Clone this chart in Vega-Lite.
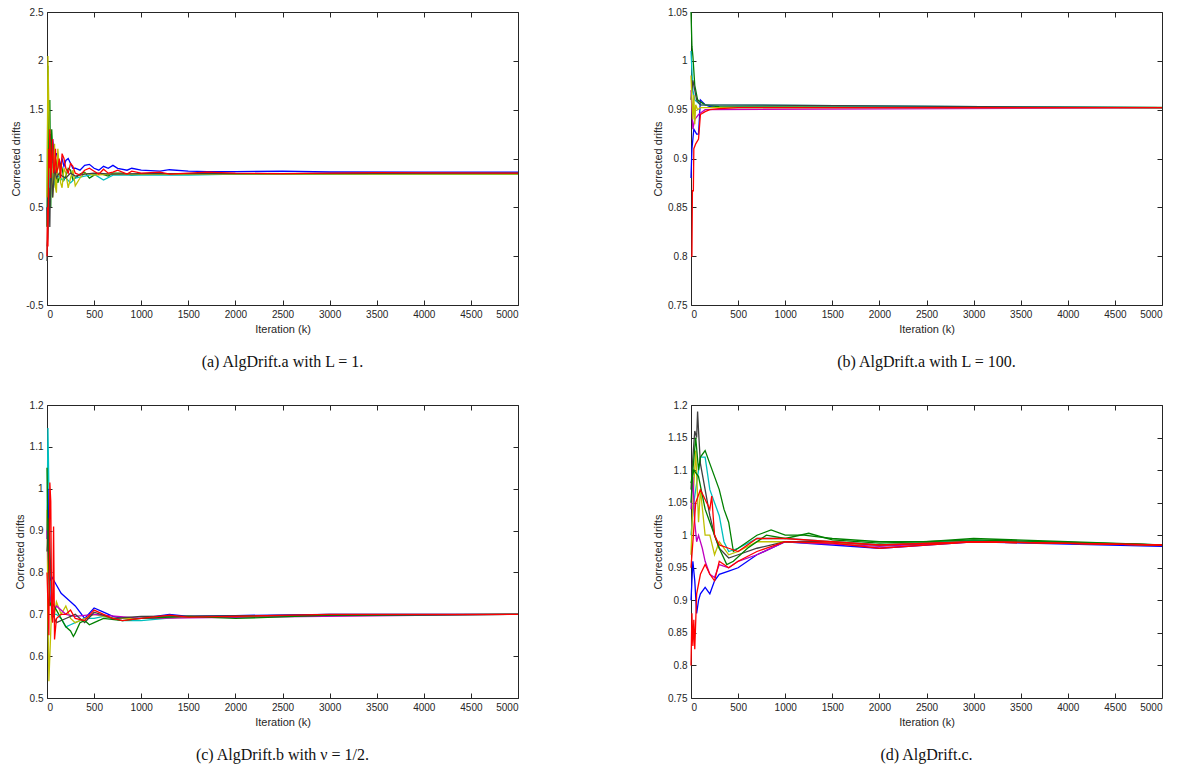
{
"$schema":"https://vega.github.io/schema/vega-lite/v6.json",
"padding":{"left":10,"top":6,"right":16,"bottom":5},
"background":"white",
"config":{
 "view":{"stroke":"#262626","strokeWidth":1},
 "axis":{"grid":false,"domain":false,"labelFont":"Liberation Sans","labelFontSize":10,"labelColor":"#262626","titleFont":"Liberation Sans","titleFontSize":11,"titleFontWeight":"normal","titleColor":"#262626","tickColor":"#262626","tickSize":-5,"labelPadding":9},
 "title":{"font":"Liberation Serif","fontSize":16,"fontWeight":"normal","color":"#111","orient":"bottom","offset":20}
},
"datasets":{"d":[
{"p":"a","r":"r1","x":0,"y":0.5},{"p":"a","r":"r1","x":5,"y":0.3},{"p":"a","r":"r1","x":10,"y":0.9},{"p":"a","r":"r1","x":15,"y":1.1},{"p":"a","r":"r1","x":20,"y":1.2},{"p":"a","r":"r1","x":25,"y":0.7},{"p":"a","r":"r1","x":30,"y":0.6},{"p":"a","r":"r1","x":40,"y":1.25},{"p":"a","r":"r1","x":50,"y":0.9},{"p":"a","r":"r1","x":60,"y":1.2},{"p":"a","r":"r1","x":70,"y":1.1},{"p":"a","r":"r1","x":80,"y":0.95},{"p":"a","r":"r1","x":90,"y":1.05},{"p":"a","r":"r1","x":100,"y":1.05},{"p":"a","r":"r1","x":115,"y":1.0},{"p":"a","r":"r1","x":130,"y":0.9},{"p":"a","r":"r1","x":145,"y":0.95},{"p":"a","r":"r1","x":160,"y":1.0},{"p":"a","r":"r1","x":180,"y":0.92},{"p":"a","r":"r1","x":200,"y":0.98},{"p":"a","r":"r1","x":225,"y":1.0},{"p":"a","r":"r1","x":250,"y":0.95},{"p":"a","r":"r1","x":275,"y":0.9},{"p":"a","r":"r1","x":300,"y":0.9},{"p":"a","r":"r1","x":350,"y":0.88},{"p":"a","r":"r1","x":400,"y":0.93},{"p":"a","r":"r1","x":450,"y":0.94},{"p":"a","r":"r1","x":500,"y":0.9},{"p":"a","r":"r1","x":550,"y":0.88},{"p":"a","r":"r1","x":600,"y":0.92},{"p":"a","r":"r1","x":650,"y":0.9},{"p":"a","r":"r1","x":700,"y":0.93},{"p":"a","r":"r1","x":750,"y":0.9},{"p":"a","r":"r1","x":850,"y":0.88},{"p":"a","r":"r1","x":900,"y":0.9},{"p":"a","r":"r1","x":1000,"y":0.88},{"p":"a","r":"r1","x":1200,"y":0.87},{"p":"a","r":"r1","x":1300,"y":0.885},{"p":"a","r":"r1","x":1500,"y":0.87},{"p":"a","r":"r1","x":1700,"y":0.865},{"p":"a","r":"r1","x":2000,"y":0.865},{"p":"a","r":"r1","x":2500,"y":0.87},{"p":"a","r":"r1","x":3000,"y":0.862},{"p":"a","r":"r1","x":4000,"y":0.86},{"p":"a","r":"r1","x":5000,"y":0.86},
{"p":"a","r":"r2","x":0,"y":0.3},{"p":"a","r":"r2","x":5,"y":1.0},{"p":"a","r":"r2","x":10,"y":1.95},{"p":"a","r":"r2","x":15,"y":1.4},{"p":"a","r":"r2","x":20,"y":1.0},{"p":"a","r":"r2","x":25,"y":0.6},{"p":"a","r":"r2","x":30,"y":1.6},{"p":"a","r":"r2","x":40,"y":0.5},{"p":"a","r":"r2","x":50,"y":1.3},{"p":"a","r":"r2","x":60,"y":1.1},{"p":"a","r":"r2","x":70,"y":0.7},{"p":"a","r":"r2","x":80,"y":0.8},{"p":"a","r":"r2","x":90,"y":1.0},{"p":"a","r":"r2","x":100,"y":0.95},{"p":"a","r":"r2","x":115,"y":0.75},{"p":"a","r":"r2","x":130,"y":0.8},{"p":"a","r":"r2","x":145,"y":0.95},{"p":"a","r":"r2","x":160,"y":0.9},{"p":"a","r":"r2","x":180,"y":0.78},{"p":"a","r":"r2","x":200,"y":0.82},{"p":"a","r":"r2","x":225,"y":0.9},{"p":"a","r":"r2","x":250,"y":0.88},{"p":"a","r":"r2","x":275,"y":0.78},{"p":"a","r":"r2","x":300,"y":0.8},{"p":"a","r":"r2","x":350,"y":0.84},{"p":"a","r":"r2","x":400,"y":0.86},{"p":"a","r":"r2","x":450,"y":0.8},{"p":"a","r":"r2","x":500,"y":0.83},{"p":"a","r":"r2","x":550,"y":0.85},{"p":"a","r":"r2","x":650,"y":0.82},{"p":"a","r":"r2","x":700,"y":0.85},{"p":"a","r":"r2","x":800,"y":0.85},{"p":"a","r":"r2","x":900,"y":0.83},{"p":"a","r":"r2","x":1000,"y":0.84},{"p":"a","r":"r2","x":1500,"y":0.84},{"p":"a","r":"r2","x":2000,"y":0.838},{"p":"a","r":"r2","x":3000,"y":0.84},{"p":"a","r":"r2","x":4000,"y":0.84},{"p":"a","r":"r2","x":5000,"y":0.84},
{"p":"a","r":"r3","x":0,"y":0.1},{"p":"a","r":"r3","x":10,"y":0.2},{"p":"a","r":"r3","x":20,"y":0.4},{"p":"a","r":"r3","x":30,"y":0.9},{"p":"a","r":"r3","x":40,"y":0.7},{"p":"a","r":"r3","x":60,"y":0.85},{"p":"a","r":"r3","x":80,"y":0.75},{"p":"a","r":"r3","x":100,"y":0.8},{"p":"a","r":"r3","x":130,"y":0.82},{"p":"a","r":"r3","x":160,"y":0.78},{"p":"a","r":"r3","x":200,"y":0.8},{"p":"a","r":"r3","x":250,"y":0.75},{"p":"a","r":"r3","x":300,"y":0.8},{"p":"a","r":"r3","x":400,"y":0.82},{"p":"a","r":"r3","x":500,"y":0.84},{"p":"a","r":"r3","x":600,"y":0.78},{"p":"a","r":"r3","x":700,"y":0.83},{"p":"a","r":"r3","x":1000,"y":0.83},{"p":"a","r":"r3","x":1500,"y":0.83},{"p":"a","r":"r3","x":2000,"y":0.84},{"p":"a","r":"r3","x":3000,"y":0.84},{"p":"a","r":"r3","x":5000,"y":0.84},
{"p":"a","r":"r5","x":0,"y":0.6},{"p":"a","r":"r5","x":10,"y":2.05},{"p":"a","r":"r5","x":20,"y":1.5},{"p":"a","r":"r5","x":30,"y":0.9},{"p":"a","r":"r5","x":40,"y":0.7},{"p":"a","r":"r5","x":50,"y":0.95},{"p":"a","r":"r5","x":60,"y":0.6},{"p":"a","r":"r5","x":70,"y":0.75},{"p":"a","r":"r5","x":80,"y":1.15},{"p":"a","r":"r5","x":90,"y":0.7},{"p":"a","r":"r5","x":100,"y":0.65},{"p":"a","r":"r5","x":115,"y":1.1},{"p":"a","r":"r5","x":130,"y":0.9},{"p":"a","r":"r5","x":145,"y":0.75},{"p":"a","r":"r5","x":160,"y":0.7},{"p":"a","r":"r5","x":180,"y":0.9},{"p":"a","r":"r5","x":200,"y":0.85},{"p":"a","r":"r5","x":225,"y":0.7},{"p":"a","r":"r5","x":250,"y":0.8},{"p":"a","r":"r5","x":275,"y":0.88},{"p":"a","r":"r5","x":300,"y":0.72},{"p":"a","r":"r5","x":350,"y":0.8},{"p":"a","r":"r5","x":400,"y":0.85},{"p":"a","r":"r5","x":500,"y":0.83},{"p":"a","r":"r5","x":700,"y":0.84},{"p":"a","r":"r5","x":1000,"y":0.84},{"p":"a","r":"r5","x":2000,"y":0.84},{"p":"a","r":"r5","x":5000,"y":0.84},
{"p":"a","r":"r6","x":0,"y":-0.05},{"p":"a","r":"r6","x":10,"y":0.5},{"p":"a","r":"r6","x":20,"y":0.7},{"p":"a","r":"r6","x":30,"y":0.3},{"p":"a","r":"r6","x":40,"y":1.0},{"p":"a","r":"r6","x":60,"y":0.6},{"p":"a","r":"r6","x":80,"y":0.9},{"p":"a","r":"r6","x":100,"y":0.8},{"p":"a","r":"r6","x":130,"y":0.85},{"p":"a","r":"r6","x":160,"y":0.82},{"p":"a","r":"r6","x":200,"y":0.8},{"p":"a","r":"r6","x":250,"y":0.85},{"p":"a","r":"r6","x":300,"y":0.82},{"p":"a","r":"r6","x":400,"y":0.84},{"p":"a","r":"r6","x":500,"y":0.85},{"p":"a","r":"r6","x":700,"y":0.84},{"p":"a","r":"r6","x":1000,"y":0.845},{"p":"a","r":"r6","x":2000,"y":0.845},{"p":"a","r":"r6","x":5000,"y":0.85},
{"p":"a","r":"r9","x":0,"y":0.0},{"p":"a","r":"r9","x":5,"y":0.5},{"p":"a","r":"r9","x":10,"y":0.1},{"p":"a","r":"r9","x":15,"y":0.6},{"p":"a","r":"r9","x":20,"y":1.1},{"p":"a","r":"r9","x":25,"y":0.9},{"p":"a","r":"r9","x":30,"y":1.3},{"p":"a","r":"r9","x":40,"y":0.8},{"p":"a","r":"r9","x":50,"y":1.0},{"p":"a","r":"r9","x":60,"y":1.2},{"p":"a","r":"r9","x":70,"y":0.85},{"p":"a","r":"r9","x":80,"y":0.9},{"p":"a","r":"r9","x":90,"y":1.1},{"p":"a","r":"r9","x":100,"y":0.85},{"p":"a","r":"r9","x":115,"y":0.9},{"p":"a","r":"r9","x":130,"y":1.0},{"p":"a","r":"r9","x":145,"y":0.8},{"p":"a","r":"r9","x":160,"y":1.05},{"p":"a","r":"r9","x":180,"y":1.0},{"p":"a","r":"r9","x":200,"y":0.9},{"p":"a","r":"r9","x":225,"y":0.85},{"p":"a","r":"r9","x":250,"y":0.95},{"p":"a","r":"r9","x":275,"y":0.92},{"p":"a","r":"r9","x":300,"y":0.85},{"p":"a","r":"r9","x":350,"y":0.83},{"p":"a","r":"r9","x":400,"y":0.88},{"p":"a","r":"r9","x":450,"y":0.9},{"p":"a","r":"r9","x":500,"y":0.87},{"p":"a","r":"r9","x":550,"y":0.84},{"p":"a","r":"r9","x":600,"y":0.89},{"p":"a","r":"r9","x":650,"y":0.85},{"p":"a","r":"r9","x":700,"y":0.86},{"p":"a","r":"r9","x":750,"y":0.88},{"p":"a","r":"r9","x":850,"y":0.84},{"p":"a","r":"r9","x":900,"y":0.87},{"p":"a","r":"r9","x":1000,"y":0.85},{"p":"a","r":"r9","x":1200,"y":0.86},{"p":"a","r":"r9","x":1300,"y":0.84},{"p":"a","r":"r9","x":1500,"y":0.85},{"p":"a","r":"r9","x":1700,"y":0.86},{"p":"a","r":"r9","x":2000,"y":0.85},{"p":"a","r":"r9","x":2500,"y":0.845},{"p":"a","r":"r9","x":3000,"y":0.85},{"p":"a","r":"r9","x":3500,"y":0.855},{"p":"a","r":"r9","x":5000,"y":0.85},
{"p":"b","r":"r1","x":0,"y":0.88},{"p":"b","r":"r1","x":10,"y":0.91},{"p":"b","r":"r1","x":30,"y":0.93},{"p":"b","r":"r1","x":60,"y":0.925},{"p":"b","r":"r1","x":80,"y":0.925},{"p":"b","r":"r1","x":100,"y":0.96},{"p":"b","r":"r1","x":150,"y":0.955},{"p":"b","r":"r1","x":200,"y":0.953},{"p":"b","r":"r1","x":300,"y":0.952},{"p":"b","r":"r1","x":5000,"y":0.952},
{"p":"b","r":"r2","x":0,"y":1.05},{"p":"b","r":"r2","x":10,"y":1.015},{"p":"b","r":"r2","x":20,"y":1.005},{"p":"b","r":"r2","x":40,"y":0.975},{"p":"b","r":"r2","x":70,"y":0.96},{"p":"b","r":"r2","x":100,"y":0.958},{"p":"b","r":"r2","x":150,"y":0.955},{"p":"b","r":"r2","x":300,"y":0.953},{"p":"b","r":"r2","x":5000,"y":0.9522},
{"p":"b","r":"r3","x":0,"y":1.01},{"p":"b","r":"r3","x":10,"y":0.99},{"p":"b","r":"r3","x":20,"y":0.97},{"p":"b","r":"r3","x":40,"y":0.96},{"p":"b","r":"r3","x":100,"y":0.955},{"p":"b","r":"r3","x":5000,"y":0.952},
{"p":"b","r":"r4","x":0,"y":0.97},{"p":"b","r":"r4","x":20,"y":0.93},{"p":"b","r":"r4","x":40,"y":0.94},{"p":"b","r":"r4","x":80,"y":0.945},{"p":"b","r":"r4","x":150,"y":0.95},{"p":"b","r":"r4","x":5000,"y":0.952},
{"p":"b","r":"r6","x":0,"y":0.96},{"p":"b","r":"r6","x":20,"y":0.98},{"p":"b","r":"r6","x":40,"y":0.97},{"p":"b","r":"r6","x":60,"y":0.96},{"p":"b","r":"r6","x":100,"y":0.955},{"p":"b","r":"r6","x":5000,"y":0.952},
{"p":"b","r":"r5","x":0,"y":0.985},{"p":"b","r":"r5","x":10,"y":0.96},{"p":"b","r":"r5","x":20,"y":0.94},{"p":"b","r":"r5","x":30,"y":0.965},{"p":"b","r":"r5","x":40,"y":0.935},{"p":"b","r":"r5","x":50,"y":0.955},{"p":"b","r":"r5","x":70,"y":0.95},{"p":"b","r":"r5","x":100,"y":0.952},{"p":"b","r":"r5","x":5000,"y":0.952},
{"p":"b","r":"r9","x":0,"y":0.8},{"p":"b","r":"r9","x":10,"y":0.8},{"p":"b","r":"r9","x":15,"y":0.867},{"p":"b","r":"r9","x":25,"y":0.867},{"p":"b","r":"r9","x":30,"y":0.91},{"p":"b","r":"r9","x":50,"y":0.915},{"p":"b","r":"r9","x":80,"y":0.92},{"p":"b","r":"r9","x":100,"y":0.945},{"p":"b","r":"r9","x":150,"y":0.948},{"p":"b","r":"r9","x":200,"y":0.95},{"p":"b","r":"r9","x":300,"y":0.951},{"p":"b","r":"r9","x":500,"y":0.952},{"p":"b","r":"r9","x":5000,"y":0.952},
{"p":"c","r":"r3","x":0,"y":0.9},{"p":"c","r":"r3","x":10,"y":1.145},{"p":"c","r":"r3","x":20,"y":1.0},{"p":"c","r":"r3","x":30,"y":0.8},{"p":"c","r":"r3","x":50,"y":0.7},{"p":"c","r":"r3","x":100,"y":0.7},{"p":"c","r":"r3","x":150,"y":0.69},{"p":"c","r":"r3","x":200,"y":0.67},{"p":"c","r":"r3","x":250,"y":0.675},{"p":"c","r":"r3","x":300,"y":0.68},{"p":"c","r":"r3","x":400,"y":0.69},{"p":"c","r":"r3","x":500,"y":0.69},{"p":"c","r":"r3","x":600,"y":0.695},{"p":"c","r":"r3","x":800,"y":0.685},{"p":"c","r":"r3","x":1000,"y":0.685},{"p":"c","r":"r3","x":1500,"y":0.695},{"p":"c","r":"r3","x":2000,"y":0.695},{"p":"c","r":"r3","x":3000,"y":0.7},{"p":"c","r":"r3","x":5000,"y":0.7},
{"p":"c","r":"r1","x":0,"y":0.88},{"p":"c","r":"r1","x":10,"y":1.0},{"p":"c","r":"r1","x":20,"y":0.85},{"p":"c","r":"r1","x":30,"y":0.78},{"p":"c","r":"r1","x":50,"y":0.79},{"p":"c","r":"r1","x":100,"y":0.77},{"p":"c","r":"r1","x":150,"y":0.75},{"p":"c","r":"r1","x":200,"y":0.74},{"p":"c","r":"r1","x":250,"y":0.73},{"p":"c","r":"r1","x":300,"y":0.72},{"p":"c","r":"r1","x":400,"y":0.69},{"p":"c","r":"r1","x":500,"y":0.715},{"p":"c","r":"r1","x":600,"y":0.705},{"p":"c","r":"r1","x":700,"y":0.695},{"p":"c","r":"r1","x":800,"y":0.69},{"p":"c","r":"r1","x":1000,"y":0.69},{"p":"c","r":"r1","x":1300,"y":0.7},{"p":"c","r":"r1","x":1500,"y":0.695},{"p":"c","r":"r1","x":2000,"y":0.697},{"p":"c","r":"r1","x":3000,"y":0.7},{"p":"c","r":"r1","x":5000,"y":0.7},
{"p":"c","r":"r5","x":0,"y":0.95},{"p":"c","r":"r5","x":10,"y":0.7},{"p":"c","r":"r5","x":20,"y":0.54},{"p":"c","r":"r5","x":30,"y":0.6},{"p":"c","r":"r5","x":50,"y":0.72},{"p":"c","r":"r5","x":80,"y":0.7},{"p":"c","r":"r5","x":100,"y":0.73},{"p":"c","r":"r5","x":150,"y":0.7},{"p":"c","r":"r5","x":200,"y":0.72},{"p":"c","r":"r5","x":250,"y":0.69},{"p":"c","r":"r5","x":300,"y":0.68},{"p":"c","r":"r5","x":400,"y":0.69},{"p":"c","r":"r5","x":500,"y":0.7},{"p":"c","r":"r5","x":700,"y":0.69},{"p":"c","r":"r5","x":1000,"y":0.69},{"p":"c","r":"r5","x":2000,"y":0.695},{"p":"c","r":"r5","x":5000,"y":0.7},
{"p":"c","r":"r4","x":0,"y":0.9},{"p":"c","r":"r4","x":30,"y":0.75},{"p":"c","r":"r4","x":60,"y":0.7},{"p":"c","r":"r4","x":100,"y":0.72},{"p":"c","r":"r4","x":200,"y":0.7},{"p":"c","r":"r4","x":300,"y":0.695},{"p":"c","r":"r4","x":500,"y":0.7},{"p":"c","r":"r4","x":1000,"y":0.69},{"p":"c","r":"r4","x":5000,"y":0.7},
{"p":"c","r":"r6","x":0,"y":0.85},{"p":"c","r":"r6","x":20,"y":0.93},{"p":"c","r":"r6","x":40,"y":0.8},{"p":"c","r":"r6","x":60,"y":0.7},{"p":"c","r":"r6","x":100,"y":0.68},{"p":"c","r":"r6","x":200,"y":0.69},{"p":"c","r":"r6","x":300,"y":0.7},{"p":"c","r":"r6","x":400,"y":0.68},{"p":"c","r":"r6","x":500,"y":0.705},{"p":"c","r":"r6","x":700,"y":0.69},{"p":"c","r":"r6","x":1000,"y":0.695},{"p":"c","r":"r6","x":5000,"y":0.7},
{"p":"c","r":"r2","x":0,"y":1.05},{"p":"c","r":"r2","x":10,"y":0.9},{"p":"c","r":"r2","x":20,"y":0.8},{"p":"c","r":"r2","x":30,"y":0.72},{"p":"c","r":"r2","x":50,"y":0.73},{"p":"c","r":"r2","x":100,"y":0.71},{"p":"c","r":"r2","x":150,"y":0.69},{"p":"c","r":"r2","x":200,"y":0.67},{"p":"c","r":"r2","x":250,"y":0.66},{"p":"c","r":"r2","x":280,"y":0.647},{"p":"c","r":"r2","x":300,"y":0.655},{"p":"c","r":"r2","x":350,"y":0.68},{"p":"c","r":"r2","x":400,"y":0.685},{"p":"c","r":"r2","x":450,"y":0.675},{"p":"c","r":"r2","x":500,"y":0.68},{"p":"c","r":"r2","x":600,"y":0.69},{"p":"c","r":"r2","x":800,"y":0.685},{"p":"c","r":"r2","x":1000,"y":0.69},{"p":"c","r":"r2","x":1500,"y":0.695},{"p":"c","r":"r2","x":2000,"y":0.69},{"p":"c","r":"r2","x":3000,"y":0.698},{"p":"c","r":"r2","x":5000,"y":0.7},
{"p":"c","r":"r9","x":0,"y":0.8},{"p":"c","r":"r9","x":20,"y":0.65},{"p":"c","r":"r9","x":30,"y":1.015},{"p":"c","r":"r9","x":40,"y":0.97},{"p":"c","r":"r9","x":50,"y":0.7},{"p":"c","r":"r9","x":60,"y":0.68},{"p":"c","r":"r9","x":70,"y":0.91},{"p":"c","r":"r9","x":80,"y":0.64},{"p":"c","r":"r9","x":100,"y":0.69},{"p":"c","r":"r9","x":150,"y":0.7},{"p":"c","r":"r9","x":200,"y":0.7},{"p":"c","r":"r9","x":250,"y":0.71},{"p":"c","r":"r9","x":300,"y":0.69},{"p":"c","r":"r9","x":400,"y":0.685},{"p":"c","r":"r9","x":500,"y":0.71},{"p":"c","r":"r9","x":600,"y":0.7},{"p":"c","r":"r9","x":700,"y":0.69},{"p":"c","r":"r9","x":800,"y":0.685},{"p":"c","r":"r9","x":1000,"y":0.69},{"p":"c","r":"r9","x":1300,"y":0.698},{"p":"c","r":"r9","x":1500,"y":0.693},{"p":"c","r":"r9","x":2000,"y":0.695},{"p":"c","r":"r9","x":3000,"y":0.7},{"p":"c","r":"r9","x":5000,"y":0.7},
{"p":"d","r":"r1","x":0,"y":0.9},{"p":"d","r":"r1","x":20,"y":0.96},{"p":"d","r":"r1","x":40,"y":0.93},{"p":"d","r":"r1","x":60,"y":0.88},{"p":"d","r":"r1","x":80,"y":0.9},{"p":"d","r":"r1","x":100,"y":0.91},{"p":"d","r":"r1","x":150,"y":0.92},{"p":"d","r":"r1","x":200,"y":0.91},{"p":"d","r":"r1","x":250,"y":0.93},{"p":"d","r":"r1","x":300,"y":0.94},{"p":"d","r":"r1","x":400,"y":0.945},{"p":"d","r":"r1","x":500,"y":0.95},{"p":"d","r":"r1","x":700,"y":0.97},{"p":"d","r":"r1","x":1000,"y":0.99},{"p":"d","r":"r1","x":1500,"y":0.985},{"p":"d","r":"r1","x":2000,"y":0.98},{"p":"d","r":"r1","x":3000,"y":0.99},{"p":"d","r":"r1","x":5000,"y":0.983},
{"p":"d","r":"r3","x":0,"y":1.0},{"p":"d","r":"r3","x":30,"y":1.05},{"p":"d","r":"r3","x":60,"y":1.08},{"p":"d","r":"r3","x":100,"y":1.12},{"p":"d","r":"r3","x":150,"y":1.12},{"p":"d","r":"r3","x":200,"y":1.07},{"p":"d","r":"r3","x":250,"y":1.05},{"p":"d","r":"r3","x":300,"y":1.03},{"p":"d","r":"r3","x":350,"y":0.99},{"p":"d","r":"r3","x":400,"y":0.975},{"p":"d","r":"r3","x":500,"y":0.98},{"p":"d","r":"r3","x":700,"y":0.995},{"p":"d","r":"r3","x":1000,"y":0.995},{"p":"d","r":"r3","x":1500,"y":0.99},{"p":"d","r":"r3","x":2000,"y":0.985},{"p":"d","r":"r3","x":3000,"y":0.992},{"p":"d","r":"r3","x":5000,"y":0.985},
{"p":"d","r":"r5","x":0,"y":0.97},{"p":"d","r":"r5","x":20,"y":1.05},{"p":"d","r":"r5","x":50,"y":1.13},{"p":"d","r":"r5","x":80,"y":1.02},{"p":"d","r":"r5","x":100,"y":1.07},{"p":"d","r":"r5","x":150,"y":1.0},{"p":"d","r":"r5","x":200,"y":1.0},{"p":"d","r":"r5","x":250,"y":0.97},{"p":"d","r":"r5","x":300,"y":0.99},{"p":"d","r":"r5","x":400,"y":0.97},{"p":"d","r":"r5","x":500,"y":0.975},{"p":"d","r":"r5","x":700,"y":0.99},{"p":"d","r":"r5","x":1000,"y":0.99},{"p":"d","r":"r5","x":2000,"y":0.985},{"p":"d","r":"r5","x":3000,"y":0.99},{"p":"d","r":"r5","x":5000,"y":0.985},
{"p":"d","r":"r4","x":0,"y":1.04},{"p":"d","r":"r4","x":20,"y":1.09},{"p":"d","r":"r4","x":40,"y":1.02},{"p":"d","r":"r4","x":60,"y":0.99},{"p":"d","r":"r4","x":80,"y":1.0},{"p":"d","r":"r4","x":120,"y":0.98},{"p":"d","r":"r4","x":150,"y":0.96},{"p":"d","r":"r4","x":200,"y":0.94},{"p":"d","r":"r4","x":250,"y":0.935},{"p":"d","r":"r4","x":300,"y":0.955},{"p":"d","r":"r4","x":400,"y":0.95},{"p":"d","r":"r4","x":500,"y":0.96},{"p":"d","r":"r4","x":700,"y":0.97},{"p":"d","r":"r4","x":1000,"y":0.99},{"p":"d","r":"r4","x":2000,"y":0.983},{"p":"d","r":"r4","x":3000,"y":0.99},{"p":"d","r":"r4","x":5000,"y":0.985},
{"p":"d","r":"r6","x":0,"y":1.07},{"p":"d","r":"r6","x":20,"y":1.12},{"p":"d","r":"r6","x":40,"y":1.16},{"p":"d","r":"r6","x":60,"y":1.15},{"p":"d","r":"r6","x":70,"y":1.19},{"p":"d","r":"r6","x":80,"y":1.16},{"p":"d","r":"r6","x":100,"y":1.11},{"p":"d","r":"r6","x":150,"y":1.07},{"p":"d","r":"r6","x":200,"y":1.03},{"p":"d","r":"r6","x":250,"y":1.0},{"p":"d","r":"r6","x":300,"y":0.98},{"p":"d","r":"r6","x":400,"y":0.965},{"p":"d","r":"r6","x":500,"y":0.97},{"p":"d","r":"r6","x":700,"y":0.98},{"p":"d","r":"r6","x":1000,"y":0.99},{"p":"d","r":"r6","x":1500,"y":0.99},{"p":"d","r":"r6","x":2000,"y":0.985},{"p":"d","r":"r6","x":3000,"y":0.99},{"p":"d","r":"r6","x":5000,"y":0.985},
{"p":"d","r":"r2","x":0,"y":1.05},{"p":"d","r":"r2","x":20,"y":1.1},{"p":"d","r":"r2","x":50,"y":1.15},{"p":"d","r":"r2","x":80,"y":1.1},{"p":"d","r":"r2","x":100,"y":1.12},{"p":"d","r":"r2","x":150,"y":1.13},{"p":"d","r":"r2","x":200,"y":1.11},{"p":"d","r":"r2","x":300,"y":1.07},{"p":"d","r":"r2","x":350,"y":1.04},{"p":"d","r":"r2","x":400,"y":1.02},{"p":"d","r":"r2","x":450,"y":0.975},{"p":"d","r":"r2","x":500,"y":0.98},{"p":"d","r":"r2","x":700,"y":1.0},{"p":"d","r":"r2","x":850,"y":1.008},{"p":"d","r":"r2","x":1000,"y":1.0},{"p":"d","r":"r2","x":1200,"y":1.0},{"p":"d","r":"r2","x":1500,"y":0.995},{"p":"d","r":"r2","x":2000,"y":0.99},{"p":"d","r":"r2","x":2500,"y":0.99},{"p":"d","r":"r2","x":3000,"y":0.995},{"p":"d","r":"r2","x":4000,"y":0.99},{"p":"d","r":"r2","x":5000,"y":0.985},
{"p":"d","r":"r7","x":0,"y":1.08},{"p":"d","r":"r7","x":30,"y":1.1},{"p":"d","r":"r7","x":80,"y":1.09},{"p":"d","r":"r7","x":150,"y":1.04},{"p":"d","r":"r7","x":200,"y":1.02},{"p":"d","r":"r7","x":300,"y":0.98},{"p":"d","r":"r7","x":380,"y":0.955},{"p":"d","r":"r7","x":450,"y":0.96},{"p":"d","r":"r7","x":600,"y":0.98},{"p":"d","r":"r7","x":800,"y":1.0},{"p":"d","r":"r7","x":1000,"y":0.995},{"p":"d","r":"r7","x":1250,"y":1.003},{"p":"d","r":"r7","x":1500,"y":0.993},{"p":"d","r":"r7","x":2000,"y":0.988},{"p":"d","r":"r7","x":3000,"y":0.993},{"p":"d","r":"r7","x":5000,"y":0.985},
{"p":"d","r":"r8","x":0,"y":0.95},{"p":"d","r":"r8","x":50,"y":1.05},{"p":"d","r":"r8","x":100,"y":1.07},{"p":"d","r":"r8","x":200,"y":1.04},{"p":"d","r":"r8","x":220,"y":1.06},{"p":"d","r":"r8","x":250,"y":1.0},{"p":"d","r":"r8","x":300,"y":0.985},{"p":"d","r":"r8","x":400,"y":0.98},{"p":"d","r":"r8","x":500,"y":0.975},{"p":"d","r":"r8","x":700,"y":0.995},{"p":"d","r":"r8","x":1000,"y":0.995},{"p":"d","r":"r8","x":1500,"y":0.99},{"p":"d","r":"r8","x":2000,"y":0.985},{"p":"d","r":"r8","x":3000,"y":0.99},{"p":"d","r":"r8","x":5000,"y":0.985},
{"p":"d","r":"r9","x":0,"y":0.8},{"p":"d","r":"r9","x":10,"y":0.88},{"p":"d","r":"r9","x":20,"y":0.83},{"p":"d","r":"r9","x":30,"y":0.87},{"p":"d","r":"r9","x":40,"y":0.825},{"p":"d","r":"r9","x":60,"y":0.91},{"p":"d","r":"r9","x":100,"y":0.94},{"p":"d","r":"r9","x":150,"y":0.955},{"p":"d","r":"r9","x":200,"y":0.94},{"p":"d","r":"r9","x":250,"y":0.93},{"p":"d","r":"r9","x":300,"y":0.96},{"p":"d","r":"r9","x":350,"y":0.955},{"p":"d","r":"r9","x":400,"y":0.95},{"p":"d","r":"r9","x":500,"y":0.96},{"p":"d","r":"r9","x":700,"y":0.975},{"p":"d","r":"r9","x":1000,"y":0.99},{"p":"d","r":"r9","x":1500,"y":0.988},{"p":"d","r":"r9","x":2000,"y":0.98},{"p":"d","r":"r9","x":3000,"y":0.99},{"p":"d","r":"r9","x":5000,"y":0.985}
]},
"vconcat":[
 {"hconcat":[
  {"width":471,"height":293,"data":{"name":"d"},"transform":[{"filter":"datum.p=='a'"}],
   "title":{"text":"(a) AlgDrift.a with L = 1."},
   "resolve":{"axis":{"x":"independent","y":"independent"}},
   "layer":[
    {"mark":{"type":"line","strokeWidth":1.3},
     "encoding":{
      "x":{"field":"x","type":"quantitative","scale":{"domain":[0,5000],"nice":false},"axis":{"orient":"bottom","values":[0,500,1000,1500,2000,2500,3000,3500,4000,4500,5000],"title":"Iteration (k)","titlePadding":4,"labelExpr":"''+datum.value"}},
      "y":{"field":"y","type":"quantitative","scale":{"domain":[-0.5,2.5],"nice":false,"zero":false},"axis":{"orient":"left","values":[-0.5,0,0.5,1,1.5,2,2.5],"title":"Corrected drifts","labelExpr":"''+datum.value"}},
      "color":{"field":"r","type":"nominal","legend":null,"scale":{"domain":["r1","r2","r3","r4","r5","r6","r7","r8","r9"],"range":["#0000ff","#008000","#00bfbf","#bf00bf","#bfbf00","#404040","#008000","#ff0000","#ff0000"]}},
      "order":{"field":"x","type":"quantitative"}}},
    {"mark":{"type":"line","strokeOpacity":0},
     "encoding":{
      "x":{"field":"x","type":"quantitative","axis":{"orient":"top","values":[0,500,1000,1500,2000,2500,3000,3500,4000,4500,5000],"labels":false,"title":null}},
      "y":{"field":"y","type":"quantitative","axis":{"orient":"right","values":[-0.5,0,0.5,1,1.5,2,2.5],"labels":false,"title":null}}}}
   ]},
  {"width":471,"height":293,"data":{"name":"d"},"transform":[{"filter":"datum.p=='b'"}],
   "title":{"text":"(b) AlgDrift.a with L = 100."},
   "resolve":{"axis":{"x":"independent","y":"independent"}},
   "layer":[
    {"mark":{"type":"line","strokeWidth":1.3},
     "encoding":{
      "x":{"field":"x","type":"quantitative","scale":{"domain":[0,5000],"nice":false},"axis":{"orient":"bottom","values":[0,500,1000,1500,2000,2500,3000,3500,4000,4500,5000],"title":"Iteration (k)","titlePadding":4,"labelExpr":"''+datum.value"}},
      "y":{"field":"y","type":"quantitative","scale":{"domain":[0.75,1.05],"nice":false,"zero":false},"axis":{"orient":"left","values":[0.75,0.8,0.85,0.9,0.95,1,1.05],"title":"Corrected drifts","labelExpr":"''+datum.value"}},
      "color":{"field":"r","type":"nominal","legend":null,"scale":{"domain":["r1","r2","r3","r4","r5","r6","r7","r8","r9"],"range":["#0000ff","#008000","#00bfbf","#bf00bf","#bfbf00","#404040","#008000","#ff0000","#ff0000"]}},
      "order":{"field":"x","type":"quantitative"}}},
    {"mark":{"type":"line","strokeOpacity":0},
     "encoding":{
      "x":{"field":"x","type":"quantitative","axis":{"orient":"top","values":[0,500,1000,1500,2000,2500,3000,3500,4000,4500,5000],"labels":false,"title":null}},
      "y":{"field":"y","type":"quantitative","axis":{"orient":"right","values":[0.75,0.8,0.85,0.9,0.95,1,1.05],"labels":false,"title":null}}}}
   ]}
 ],"spacing":130},
 {"hconcat":[
  {"width":471,"height":293,"data":{"name":"d"},"transform":[{"filter":"datum.p=='c'"}],
   "title":{"text":"(c) AlgDrift.b with ν = 1/2."},
   "resolve":{"axis":{"x":"independent","y":"independent"}},
   "layer":[
    {"mark":{"type":"line","strokeWidth":1.3},
     "encoding":{
      "x":{"field":"x","type":"quantitative","scale":{"domain":[0,5000],"nice":false},"axis":{"orient":"bottom","values":[0,500,1000,1500,2000,2500,3000,3500,4000,4500,5000],"title":"Iteration (k)","titlePadding":4,"labelExpr":"''+datum.value"}},
      "y":{"field":"y","type":"quantitative","scale":{"domain":[0.5,1.2],"nice":false,"zero":false},"axis":{"orient":"left","values":[0.5,0.6,0.7,0.8,0.9,1,1.1,1.2],"title":"Corrected drifts","labelExpr":"''+datum.value"}},
      "color":{"field":"r","type":"nominal","legend":null,"scale":{"domain":["r1","r2","r3","r4","r5","r6","r7","r8","r9"],"range":["#0000ff","#008000","#00bfbf","#bf00bf","#bfbf00","#404040","#008000","#ff0000","#ff0000"]}},
      "order":{"field":"x","type":"quantitative"}}},
    {"mark":{"type":"line","strokeOpacity":0},
     "encoding":{
      "x":{"field":"x","type":"quantitative","axis":{"orient":"top","values":[0,500,1000,1500,2000,2500,3000,3500,4000,4500,5000],"labels":false,"title":null}},
      "y":{"field":"y","type":"quantitative","axis":{"orient":"right","values":[0.5,0.6,0.7,0.8,0.9,1,1.1,1.2],"labels":false,"title":null}}}}
   ]},
  {"width":471,"height":293,"data":{"name":"d"},"transform":[{"filter":"datum.p=='d'"}],
   "title":{"text":"(d) AlgDrift.c."},
   "resolve":{"axis":{"x":"independent","y":"independent"}},
   "layer":[
    {"mark":{"type":"line","strokeWidth":1.3},
     "encoding":{
      "x":{"field":"x","type":"quantitative","scale":{"domain":[0,5000],"nice":false},"axis":{"orient":"bottom","values":[0,500,1000,1500,2000,2500,3000,3500,4000,4500,5000],"title":"Iteration (k)","titlePadding":4,"labelExpr":"''+datum.value"}},
      "y":{"field":"y","type":"quantitative","scale":{"domain":[0.75,1.2],"nice":false,"zero":false},"axis":{"orient":"left","values":[0.75,0.8,0.85,0.9,0.95,1,1.05,1.1,1.15,1.2],"title":"Corrected drifts","labelExpr":"''+datum.value"}},
      "color":{"field":"r","type":"nominal","legend":null,"scale":{"domain":["r1","r2","r3","r4","r5","r6","r7","r8","r9"],"range":["#0000ff","#008000","#00bfbf","#bf00bf","#bfbf00","#404040","#008000","#ff0000","#ff0000"]}},
      "order":{"field":"x","type":"quantitative"}}},
    {"mark":{"type":"line","strokeOpacity":0},
     "encoding":{
      "x":{"field":"x","type":"quantitative","axis":{"orient":"top","values":[0,500,1000,1500,2000,2500,3000,3500,4000,4500,5000],"labels":false,"title":null}},
      "y":{"field":"y","type":"quantitative","axis":{"orient":"right","values":[0.75,0.8,0.85,0.9,0.95,1,1.05,1.1,1.15,1.2],"labels":false,"title":null}}}}
   ]}
 ],"spacing":130}
],
"spacing":28
}
